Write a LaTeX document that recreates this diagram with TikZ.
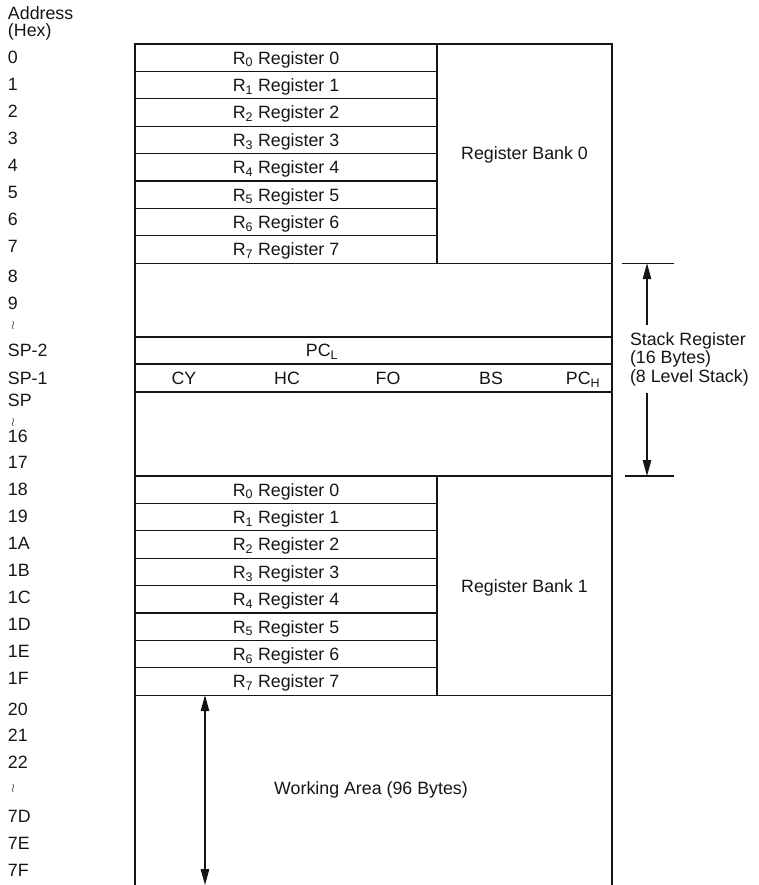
\documentclass[tikz,border=0pt]{standalone}
\usepackage{fontspec}
\setmainfont{Liberation Sans}
\usetikzlibrary{
  arrows.meta,
  positioning
}
\definecolor{memInk}{HTML}{151515}
\tikzset{
  every node/.style={font=\fontsize{17.8}{18.5}\selectfont, text=memInk, inner sep=0pt, outer sep=0pt},
  lbl/.style={text height=12.8pt, text depth=0pt},
  cell/.style={
    lbl,
    draw=memInk,
    line width=1.1pt,
    minimum width=302pt,
    minimum height=27.4pt,
    anchor=north west
  },
  bank/.style={
    lbl,
    draw=memInk,
    line width=1.1pt,
    minimum width=175pt,
    minimum height=219.2pt,
    anchor=north west
  },
  area/.style={
    draw=memInk,
    line width=1.1pt,
    minimum width=477pt,
    anchor=north west
  },
  addr/.style={lbl, anchor=west},
  gap/.style={font=\fontsize{13}{14}\selectfont, text height=6pt, text depth=1pt},
  tick/.style={line width=1.1pt, draw=memInk},
  half/.style={
    -{Triangle[length=16pt,width=8.5pt]},
    line width=1.2pt,
    draw=memInk
  },
  span/.style={
    {Triangle[length=16pt,width=8.5pt]}-{Triangle[length=16pt,width=8.5pt]},
    line width=1.2pt,
    draw=memInk
  }
}

\begin{document}
\begin{tikzpicture}[x=1pt, y=-1pt]
  \useasboundingbox (0,0) rectangle (759,885);

  % address column
  \foreach \txt/\ypos [count=\k] in {Address/13, (Hex)/30,
      0/57.5, 1/84.5, 2/111.5, 3/138.5, 4/165.5, 5/192.5, 6/219.5, 7/246.5,
      8/276, 9/303, SP-2/350, SP-1/378, SP/400, 16/436, 17/462,
      18/489, 19/516, 1A/543, 1B/570, 1C/597, 1D/624, 1E/651, 1F/678,
      20/709, 21/735, 22/762, 7D/816, 7E/843, 7F/870}
    \node[addr] (ad\k) at (8,\ypos) {\txt};
  \node[gap] (gap1) at (13,326) {$\wr$};
  \node[gap] (gap2) at (13,423) {$\wr$};
  \node[gap] (gap3) at (13,789) {$\wr$};

  % register bank 0
  \node[cell] (ra0) at (135,44) {R\textsubscript{0} Register 0};
  \foreach \i [remember=\i as \j (initially 0)] in {1,...,7}
    \node[cell, below=0pt of ra\j] (ra\i) {R\textsubscript{\i} Register \i};
  \node[bank] (bank0) at (ra0.north east) {Register Bank 0};

  % stack
  \node[area, minimum height=212.8pt] (stack) at (ra7.south west) {};
  \node[area, minimum height=27pt] (pcl) at (135,337) {};
  \node[area, minimum height=28pt, below=0pt of pcl] (flags) {};
  \node[lbl] (pcltxt) at (322,350.5) {PC\textsubscript{L}};
  \foreach \f/\fx [count=\k] in {CY/184, HC/287, FO/388, BS/491, PC\textsubscript{H}/583}
    \node[lbl] (flag\k) at (\fx,378) {\f};

  \coordinate (stkTop) at ([xshift=35pt]stack.north east);
  \coordinate (stkBot) at ([xshift=35pt]stack.south east);
  \draw[tick] ([xshift=-25pt]stkTop) -- ([xshift=27pt]stkTop);
  \draw[tick] ([xshift=-22pt]stkBot) -- ([xshift=27pt]stkBot);
  \node[align=left, anchor=west, inner ysep=7pt] (stklbl) at (630,359) {
    Stack Register\\(16 Bytes)\\(8 Level Stack)
  };
  \draw[half] (stklbl.north -| stkTop) -- (stkTop);
  \draw[half] (stklbl.south -| stkBot) -- (stkBot);

  % register bank 1
  \node[cell] (rb0) at (stack.south west) {R\textsubscript{0} Register 0};
  \foreach \i [remember=\i as \j (initially 0)] in {1,...,7}
    \node[cell, below=0pt of rb\j] (rb\i) {R\textsubscript{\i} Register \i};
  \node[bank] (bank1) at (rb0.north east) {Register Bank 1};

  % working area
  \coordinate (waL) at (135,885);
  \coordinate (waR) at (612,885);
  \draw[tick] (rb7.south west) -- (waL);
  \draw[tick] (bank1.south east) -- (waR);
  \node[lbl] (work) at (371,788) {Working Area (96 Bytes)};
  \coordinate (waArrow) at (205,885);
  \draw[span] (waArrow |- rb7.south) -- (waArrow);
\end{tikzpicture}
\end{document}
